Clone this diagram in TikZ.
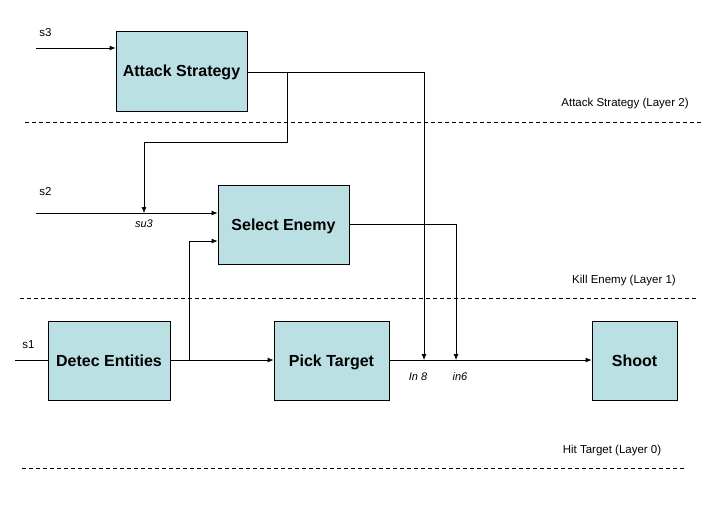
\documentclass[tikz,border=0pt]{standalone}
\usepackage{fontspec}
\setmainfont{Liberation Sans}
\usetikzlibrary{arrows, arrows.meta, positioning}
\definecolor{boxcyan}{RGB}{187,224,227}

\begin{document}
\begin{tikzpicture}[x=1pt, y=-1pt,
  block/.style={draw, fill=boxcyan, inner sep=0pt, text depth=0pt,
    font=\bfseries\fontsize{16}{18}\selectfont},
  lbl/.style={font=\fontsize{11.5}{13}\selectfont, inner sep=0pt},
  port/.style={font=\itshape\fontsize{11}{13}\selectfont, inner sep=0pt},
  layer/.style={dash pattern=on 4pt off 3pt},
  line width=0.8pt, >={Latex[length=6pt, width=5pt]}]

  \useasboundingbox (0,0) rectangle (720,512);

  % layer separators
  \draw[layer] (25,122) -- (702,122);
  \draw[layer] (20,298) -- (697,298);
  \draw[layer] (22,468) -- (685,468);
  \node[lbl] (l2) at (625,104) {Attack Strategy (Layer 2)};
  \node[lbl] (l1) at (624,281) {Kill Enemy (Layer 1)};
  \node[lbl] (l0) at (612,451) {Hit Target (Layer 0)};

  % behaviours
  \node[block, minimum width=131, minimum height=80] (attack) at (181.5,71) {Attack Strategy};
  \node[block, minimum width=131, minimum height=79] (select) at (283.5,224.5) {Select Enemy};
  \node[block, minimum width=122, minimum height=79] (detect) at (109,360.5) {Detec Entities};
  \node[block, minimum width=115, minimum height=79] (pick) at (331.5,360.5) {Pick Target};
  \node[block, minimum width=85, minimum height=79] (shoot) at (634.5,360.5) {Shoot};

  % inputs
  \coordinate (s3in) at (36,48);
  \coordinate (s2in) at (36,213);
  \coordinate (s1in) at (15,360);
  \node[lbl, right=3pt of s3in, yshift=15pt] (s3) {s3};
  \node[lbl, right=3pt of s2in, yshift=21pt] (s2) {s2};
  \node[lbl, right=7pt of s1in, yshift=15pt] (s1) {s1};
  \draw[->] (s3in) -- (attack.west |- s3in);
  \draw[->] (s2in) -- (select.west |- s2in);
  \draw (s1in) -- (detect.west |- s1in);

  % suppression / inhibition points
  \coordinate (su3) at (144,213);
  \coordinate (in8) at (424,360);
  \coordinate (in6) at (456,360);
  \coordinate (split) at (287,72);
  \coordinate (fork) at (189,360);
  \node[port, below=6pt of su3] (su3lbl) {su3};
  \node[port, below=12pt of in8, xshift=-6pt] (in8lbl) {In 8};
  \node[port, below=12pt of in6, xshift=4pt] (in6lbl) {in6};

  % connectors
  \draw[->] (attack.east |- split) -- (in8 |- split) -- (in8);
  \draw[->] (split) -- (287,142) -- (su3 |- 0,142) -- (su3);
  \draw[->] (select.east) -- (in6 |- select.east) -- (in6);
  \draw[->] (detect.east |- fork) -- (pick.west |- fork);
  \draw[->] (fork) |- ([yshift=-16.5pt]select.west);
  \draw[->] (pick.east |- fork) -- (shoot.west |- fork);
\end{tikzpicture}
\end{document}
